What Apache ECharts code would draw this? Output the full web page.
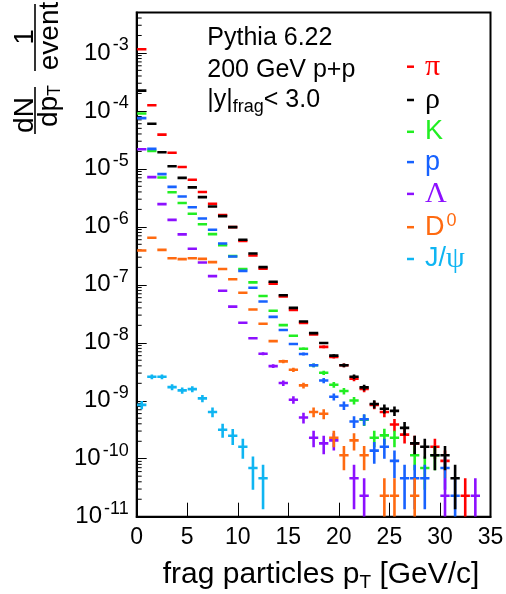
<!DOCTYPE html>
<html>
<head>
<meta charset="utf-8">
<script src="https://cdn.jsdelivr.net/npm/echarts@6/dist/echarts.min.js"></script>
<style>
html,body{margin:0;padding:0;background:#fff;}
#c{width:506px;height:594px;}
</style>
</head>
<body>
<div id="c"></div>
<script>
// ---- data (1 GeV/c bins) ----
const binCenters = [0.5,1.5,2.5,3.5,4.5,5.5,6.5,7.5,8.5,9.5,10.5,11.5,12.5,13.5,14.5,15.5,16.5,
  17.5,18.5,19.5,20.5,21.5,22.5,23.5,24.5,25.5,26.5,27.5,28.5,29.5,30.5,31.5,32.5,33.5];

const pion = [1.16e-3,1.25e-4,3.9e-5,1.9e-5,1.08e-5,6.5e-6,4.0e-6,2.5e-6,1.6e-6,9.9e-7,5.7e-7,3.2e-7,
  1.9e-7,1.05e-7,6.3e-8,3.7e-8,2.2e-8,1.39e-8,8.5e-9,5.7e-9,4.1e-9,2.4e-9,1.6e-9,8.5e-10,6.4e-10,
  3.9e-10,2.6e-10,1.84e-10,null,1.61e-10,9.2e-11,null,2.3e-11,null];
const rho = [2.24e-4,6.0e-5,1.94e-5,1.11e-5,7.0e-6,4.8e-6,3.25e-6,2.24e-6,1.53e-6,9.9e-7,6.0e-7,3.47e-7,
  2.02e-7,1.13e-7,6.6e-8,4.0e-8,2.33e-8,1.47e-8,9.9e-9,6.0e-9,4.1e-9,2.6e-9,1.7e-9,8.8e-10,7.3e-10,
  6.7e-10,3.4e-10,1.84e-10,1.61e-10,1.15e-10,1.15e-10,4.6e-11,null,null];
const kaon = [9.0e-5,2.04e-5,7.1e-6,3.96e-6,2.57e-6,1.68e-6,1.11e-6,7.5e-7,4.8e-7,3.13e-7,1.87e-7,1.1e-7,
  6.4e-8,3.56e-8,2.02e-8,1.32e-8,7.9e-9,4.1e-9,3.04e-9,1.89e-9,1.47e-9,1.01e-9,4.7e-10,2.3e-10,2.53e-10,
  2.3e-10,null,1.15e-10,6.9e-11,1.15e-10,null,null,null,null];
const proton = [7.5e-5,2.21e-5,8.1e-6,4.9e-6,3.33e-6,2.18e-6,1.39e-6,8.9e-7,5.15e-7,3.08e-7,1.74e-7,8.9e-8,
  5.15e-8,2.8e-8,1.66e-8,9.5e-9,6.4e-9,4.1e-9,2.24e-9,1.17e-9,8.3e-10,4.4e-10,4.8e-10,1.38e-10,1.61e-10,
  9.2e-11,4.6e-11,4.6e-11,4.6e-11,null,6.9e-11,2.3e-11,null,null];
const lambda = [2.18e-5,7.2e-6,2.46e-6,1.32e-6,7.4e-7,4.2e-7,2.42e-7,1.41e-7,7.9e-8,4.2e-8,2.21e-8,1.2e-8,
  6.46e-9,3.96e-9,2.02e-9,1.04e-9,5.15e-10,2.3e-10,1.84e-10,2.07e-10,null,4.6e-11,2.3e-11,null,null,
  null,null,null,null,null,2.3e-11,null,null,2.3e-11];
const dzero = [3.9e-7,6.5e-7,4.0e-7,2.88e-7,2.77e-7,2.88e-7,2.8e-7,2.46e-7,1.87e-7,1.25e-7,7.3e-8,3.75e-8,
  2.13e-8,1.07e-8,4.77e-9,3.42e-9,1.84e-9,6.4e-10,5.97e-10,2.3e-10,1.15e-10,2.07e-10,1.15e-10,null,2.3e-11,
  2.3e-11,null,2.3e-11,null,null,null,null,null,null];
const jpsi = [8.5e-10,2.6e-9,2.6e-9,1.72e-9,1.51e-9,1.59e-9,1.1e-9,6.4e-10,3.16e-10,2.49e-10,1.61e-10,6.9e-11,
  4.6e-11,null,null,null,null,null,null,null,null,null,null,null,null,null,null,null,null,null,null,null,null,null];

// one simulated entry corresponds to this value (Poisson errors)
const countUnit = 2.3e-11;

// axes / ticks
const xTickLabels = [0,5,10,15,20,25,30,35];
const yTickExponents = [-11,-10,-9,-8,-7,-6,-5,-4,-3];
const legendNames = ['π','ρ','K','p','Λ','D0','J/ψ'];

// ---- styling ----
const yMin = 1e-11, yMax = 5e-3;
const SANS = '"Liberation Sans", Arial, sans-serif';
const SERIF = '"Liberation Serif", "DejaVu Serif", serif';
const colors = {'π':'#ff0000','ρ':'#000000','K':'#22ee22','p':'#1762ff','Λ':'#8c10ff','D0':'#ff6a10','J/ψ':'#0fb5f2'};
const halfBar = 0.46;
const LW = 2.6;

function makeSeries(name, values) {
  const color = colors[name];
  const data = [];
  values.forEach((v, i) => {
    if (v != null) data.push([binCenters[i], v, Math.sqrt(v / countUnit) * countUnit]);
  });
  return {
    type: 'custom', name: name, coordinateSystem: 'cartesian2d', clip: true,
    itemStyle: {color: color},
    data: data,
    renderItem: function (params, api) {
      const x = api.value(0), y = api.value(1), e = api.value(2);
      const pL = api.coord([x - halfBar, y]);
      const pR = api.coord([x + halfBar, y]);
      const pT = api.coord([x, y + e]);
      const bottomPx = params.coordSys.y + params.coordSys.height;
      const pB = (y - e) > yMin ? api.coord([x, y - e]) : [pT[0], bottomPx];
      const children = [{
        type: 'line', shape: {x1: pL[0], y1: pL[1], x2: pR[0], y2: pR[1]},
        style: {stroke: color, lineWidth: LW}
      }];
      if (pB[1] - pT[1] > LW) {
        children.push({type: 'line', shape: {x1: pT[0], y1: pT[1], x2: pB[0], y2: pB[1]},
          style: {stroke: color, lineWidth: LW}});
      }
      return {type: 'group', children: children};
    }
  };
}

// minor log ticks on the left axis (2..9 per decade)
const minorTickValues = [];
for (let n = -11; n <= -3; n++) for (let k = 2; k <= 9; k++) {
  const v = k * Math.pow(10, n);
  if (v < yMax) minorTickValues.push([0, v]);
}

const chart = echarts.init(document.getElementById('c'), null, {renderer: 'canvas'});

const option = {
  animation: false,
  backgroundColor: '#ffffff',
  grid: {left: 136.7, right: 15.5, top: 12.4, bottom: 77.3, show: true, borderColor: '#000',
    borderWidth: 2, backgroundColor: 'transparent', containLabel: false, outerBoundsMode: 'none'},
  xAxis: {
    type: 'value', min: 0, max: 35, interval: 5,
    axisLine: {show: true, lineStyle: {color: '#000', width: 2}},
    axisTick: {show: true, inside: true, length: 14, lineStyle: {color: '#000', width: 1}},
    splitLine: {show: false},
    axisLabel: {show: true, margin: 9, color: '#000', fontSize: 23, fontFamily: SANS,
      formatter: function (v) { return xTickLabels.indexOf(v) >= 0 ? String(v) : ''; }}
  },
  yAxis: {
    type: 'log', logBase: 10, min: yMin, max: yMax,
    axisLine: {show: true, lineStyle: {color: '#000', width: 2}},
    axisTick: {show: true, inside: true, length: 10, lineStyle: {color: '#000', width: 1}},
    splitLine: {show: false},
    axisLabel: {
      show: true, margin: 8, color: '#000', showMaxLabel: true,
      formatter: function (v) {
        const lg = Math.log10(v);
        const n = Math.round(lg);
        if (Math.abs(lg - n) > 1e-6 || yTickExponents.indexOf(n) < 0) return '';
        return '{b|10}{s|' + n + '}';
      },
      rich: {
        b: {fontSize: 24, fontFamily: SANS, color: '#000', lineHeight: 34},
        s: {fontSize: 18, fontFamily: SANS, color: '#000', lineHeight: 14, verticalAlign: 'top', padding: [0, 0, 0, 2]}
      }
    }
  },
  legend: {
    show: true, orient: 'vertical', left: 407, top: 51.7, padding: 0,
    itemWidth: 7, itemHeight: 2.5, itemGap: 3.3, icon: 'rect', selectedMode: false,
    data: legendNames.map(n => ({name: n, textStyle: {color: colors[n]}})),
    formatter: function (name) {
      if (name === 'π' || name === 'ρ' || name === 'Λ') return '{g|' + name + '}';
      if (name === 'D0') return '{n|D}{sup|0}';
      if (name === 'J/ψ') return '{n|J/}{g|ψ}';
      return '{n|' + name + '}';
    },
    textStyle: {
      padding: [0, 0, 0, 6],
      rich: {
        n: {fontSize: 27, fontFamily: SANS, lineHeight: 30},
        g: {fontSize: 30, fontFamily: SERIF, lineHeight: 30},
        sup: {fontSize: 18, fontFamily: SANS, lineHeight: 8, verticalAlign: 'top', padding: [0, 0, 0, 2]}
      }
    }
  },
  graphic: [
    // y-axis title (rotated fractions)
    {type: 'text', x: 25, y: 115, rotation: Math.PI / 2, silent: true,
      style: {text: 'dN', fontSize: 28, fontFamily: SANS, fill: '#000', align: 'center', verticalAlign: 'middle'}},
    {type: 'line', silent: true, shape: {x1: 35, y1: 87, x2: 35, y2: 134}, style: {stroke: '#000', lineWidth: 1.6}},
    {type: 'text', x: 49, y: 106, rotation: Math.PI / 2, silent: true,
      style: {text: '{a|dp}{s|T}', align: 'center', verticalAlign: 'middle', fill: '#000',
        rich: {a: {fontSize: 28, fontFamily: SANS, lineHeight: 30},
               s: {fontSize: 18, fontFamily: SANS, lineHeight: 16, verticalAlign: 'bottom'}}}},
    {type: 'text', x: 25, y: 37, rotation: Math.PI / 2, silent: true,
      style: {text: '1', fontSize: 28, fontFamily: SANS, fill: '#000', align: 'center', verticalAlign: 'middle'}},
    {type: 'line', silent: true, shape: {x1: 35, y1: 4, x2: 35, y2: 71}, style: {stroke: '#000', lineWidth: 1.6}},
    {type: 'text', x: 50, y: 36, rotation: Math.PI / 2, silent: true,
      style: {text: 'event', fontSize: 28, fontFamily: SANS, fill: '#000', align: 'center', verticalAlign: 'middle'}},
    // x-axis title
    {type: 'text', x: 162.7, y: 575, silent: true,
      style: {text: '{a|frag particles p}{s|T}{a| [GeV/c]}', align: 'left', verticalAlign: 'middle', fill: '#000',
        rich: {a: {fontSize: 30, fontFamily: SANS, lineHeight: 34},
               s: {fontSize: 19, fontFamily: SANS, lineHeight: 18, verticalAlign: 'bottom'}}}},
    // info text
    {type: 'text', x: 207.3, y: 38, silent: true,
      style: {text: 'Pythia 6.22', fontSize: 25, fontFamily: SANS, fill: '#000', align: 'left', verticalAlign: 'middle'}},
    {type: 'text', x: 207.3, y: 70.5, silent: true,
      style: {text: '200 GeV p+p', fontSize: 25, fontFamily: SANS, fill: '#000', align: 'left', verticalAlign: 'middle'}},
    {type: 'text', x: 207.3, y: 100.5, silent: true,
      style: {text: '{a||y|}{s|frag}{a|< 3.0}', align: 'left', verticalAlign: 'middle', fill: '#000',
        rich: {a: {fontSize: 25, fontFamily: SANS, lineHeight: 32},
               s: {fontSize: 18, fontFamily: SANS, lineHeight: 8, verticalAlign: 'bottom'}}}}
  ],
  series: [
    {
      type: 'custom', name: 'minorTicks', coordinateSystem: 'cartesian2d', silent: true, clip: false,
      data: minorTickValues,
      renderItem: function (params, api) {
        const p = api.coord([api.value(0), api.value(1)]);
        return {type: 'line', shape: {x1: p[0], y1: p[1], x2: p[0] + 5, y2: p[1]},
          style: {stroke: '#000', lineWidth: 1}};
      }
    },
    makeSeries('π', pion),
    makeSeries('K', kaon),
    makeSeries('p', proton),
    makeSeries('Λ', lambda),
    makeSeries('D0', dzero),
    makeSeries('J/ψ', jpsi),
    makeSeries('ρ', rho)
  ]
};
chart.setOption(option);
</script>
</body>
</html>
